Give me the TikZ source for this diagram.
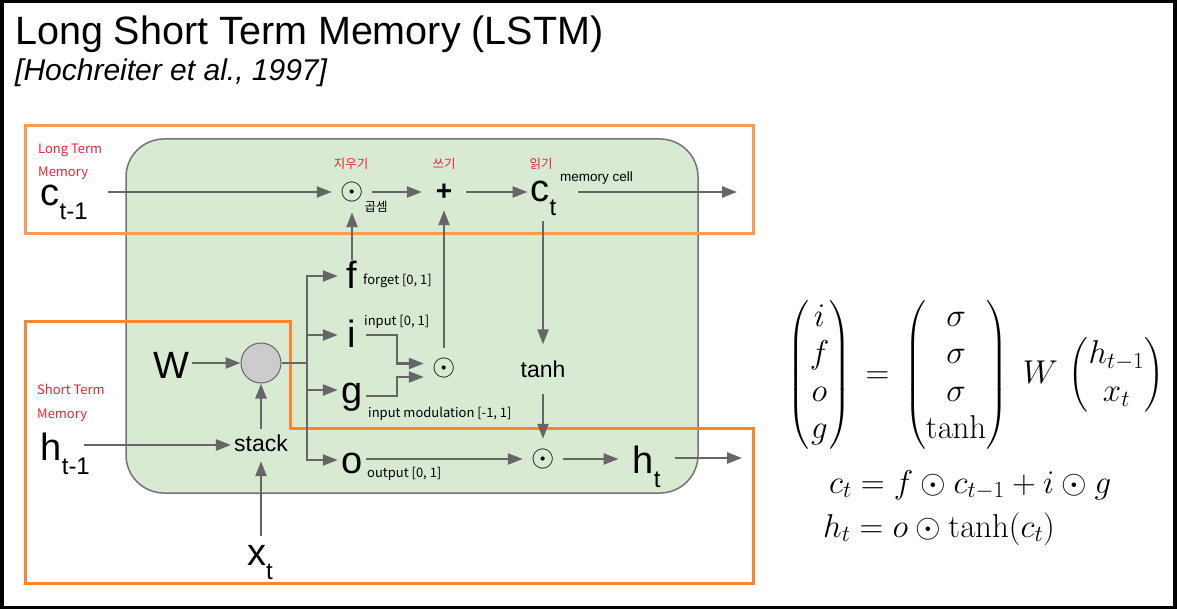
\RequirePackage{fix-cm}
\documentclass[tikz,border=0pt]{standalone}
\usepackage{amsmath}
\usepackage[no-math]{fontspec}
\setmainfont{Liberation Sans}
\newfontfamily\krfont{Noto Sans CJK KR}
\usetikzlibrary{arrows.meta,positioning,calc}
\definecolor{wire}{HTML}{666666}
\definecolor{cellfill}{HTML}{D9EAD3}
\definecolor{celledge}{HTML}{747474}
\definecolor{mixfill}{HTML}{CCCCCC}
\definecolor{tagred}{HTML}{EE2233}
\definecolor{ltmorange}{HTML}{F79A55}
\definecolor{stmorange}{HTML}{F9862F}
\newcommand{\lowsub}[2]{#1\raisebox{-14pt}{\fontsize{24}{24}\selectfont #2}}
\tikzset{
  flowarr/.style={-{Triangle[length=15pt,width=11pt]},line width=2.4pt,draw=wire},
  flowline/.style={line width=2.4pt,draw=wire},
  bigvar/.style={font=\fontsize{38}{38}\selectfont,text height=26pt,text depth=0pt,inner sep=3pt},
  subvar/.style={bigvar,text depth=16pt},
  gatevar/.style={bigvar,minimum width=28pt},
  opsym/.style={circle,inner sep=0pt,minimum size=40pt,font=\fontsize{30}{30}\selectfont},
  plussym/.style={inner sep=0pt,minimum width=44pt,minimum height=36pt,
                  font=\bfseries\fontsize{28}{28}\selectfont},
  wordnode/.style={font=\fontsize{23}{23}\selectfont,inner sep=3pt},
  mixer/.style={circle,draw=wire,line width=1pt,fill=mixfill,minimum size=40pt,inner sep=0pt},
  gatetag/.style={font=\krfont\fontsize{13}{13}\selectfont,inner sep=0pt,anchor=base west},
  memtag/.style={gatetag,text=tagred,align=left,font=\krfont\fontsize{13}{23.5}\selectfont},
  krtag/.style={font=\krfont\fontsize{12.5}{12.5}\selectfont,inner sep=0pt},
  cellbox/.style={draw=celledge,fill=cellfill,line width=1.5pt,rounded corners=38pt},
  ltmbox/.style={draw=ltmorange,line width=3pt},
  stmbox/.style={draw=stmorange,line width=3pt},
  eqtext/.style={font=\fontsize{33}{37.5}\selectfont,inner sep=0pt}
}
\begin{document}
\begin{tikzpicture}[x=1pt,y=-1pt]
  \useasboundingbox (0,0) rectangle (1177,609);
  \fill[black] (0,0) rectangle (1177,609);
  \fill[white] (4,3) rectangle (1173,606);

  \node[anchor=base west,inner sep=0pt,font=\fontsize{39.5}{39.5}\selectfont] (title) at (15,45) {Long Short Term Memory (LSTM)};
  \node[anchor=base west,inner sep=0pt,font=\itshape\fontsize{30}{30}\selectfont] (cite) at (15,81) {[Hochreiter et al., 1997]};

  \draw[cellbox] (126,139) rectangle (698,493);
  \draw[ltmbox] (25,126) rectangle (753,234);
  \draw[stmbox] (25,322) -- (290,322) -- (290,428) -- (753,428) -- (753,583) -- (25,583) -- cycle;

  % cell state path
  \node[subvar,anchor=base west] (cprev) at (37.5,206) {\lowsub{c}{t-1}};
  \node[opsym] (forgetmul) at (352,192) {$\odot$};
  \node[plussym] (addgate) at (444,192) {+};
  \node[subvar,anchor=base west] (cnow) at (527.5,202) {\lowsub{c}{t}};
  \coordinate (cout) at (737,192);

  \node[krtag,text=tagred] (erasetag) at (351,164) {지우기};
  \node[krtag,text=tagred] (writetag) at (444,164) {쓰기};
  \node[krtag,text=tagred] (readtag) at (541,164) {읽기};
  \node[krtag] (multag) at (376,207) {곱셈};
  \node[anchor=base west,inner sep=0pt,font=\fontsize{13.5}{13.5}\selectfont] (celltag) at (560,182) {memory cell};
  \node[memtag] (ltmtag) at (38,177) {Long Term\\Memory};
  \node[memtag] (stmtag) at (37,418) {Short Term\\Memory};

  % inputs and gates
  \node[bigvar] (W) at (171,365) {W};
  \node[mixer] (mix) at (261,363) {};
  \node[wordnode,text height=17pt,text depth=5pt,inner ysep=5pt] (stack) at (261,445) {stack};
  \node[subvar,anchor=base west] (hprev) at (37.5,460) {\lowsub{h}{t-1}};
  \node[bigvar,anchor=base west] (xin) at (244,565) {\lowsub{x}{t}};
  \coordinate (split) at (307,363);
  \node[gatevar] (f) at (352,276) {f};
  \node[gatevar] (i) at (352,335) {i};
  \node[gatevar] (g) at (352,390) {g};
  \node[gatevar] (o) at (352,460) {o};
  \node[gatetag] (ftag) at (363,285) {forget [0, 1]};
  \node[gatetag] (itag) at (364,326) {input [0, 1]};
  \node[gatetag] (gtag) at (368,417) {input modulation [-1, 1]};
  \node[gatetag] (otag) at (367,477) {output [0, 1]};

  \node[opsym] (inmul) at (444,368) {$\odot$};
  \node[wordnode,inner ysep=16pt] (tanh) at (543,369) {tanh};
  \node[opsym] (outmul) at (543,459) {$\odot$};
  \node[bigvar,anchor=base west,inner xsep=14pt] (hnow) at (618.5,473) {\lowsub{h}{t}};
  \coordinate (hout) at (742,458);

  \draw[flowarr,shorten <=17pt] (cprev.east |- forgetmul) -- (forgetmul);
  \draw[flowarr] (forgetmul) -- (addgate);
  \draw[flowarr] (addgate) -- (cnow.west |- addgate);
  \draw[flowarr,shorten <=18pt] (cnow.east |- cout) -- (cout);
  \draw[flowarr] (f) -- (forgetmul);

  \draw[flowarr] (W.east |- mix) -- (mix);
  \draw[flowarr] (stack) -- (mix);
  \draw[flowarr] (xin.north -| stack) -- (stack);
  \draw[flowarr,shorten <=-9.5pt] (hprev.east |- stack) -- (stack);
  \draw[flowline] (mix) -- (split);
  \foreach \gate in {f,i,g,o}
    \draw[flowarr] (split) |- (\gate);

  \draw[flowarr] (i.east) -- ++(31,0) |- ([yshift=4.5pt]inmul.west);
  \draw[flowarr] ([yshift=-6pt]g.east) -- ++(31,0) |- ([yshift=-9pt]inmul.west);
  \draw[flowarr] (inmul) -- (addgate);
  \draw[flowarr] (cnow.south -| tanh) -- (tanh);
  \draw[flowarr] (tanh) -- (outmul);
  \draw[flowarr] (o.east |- outmul) -- (outmul);
  \draw[flowarr] (outmul) -- (hnow.west |- outmul);
  \draw[flowarr] (hnow.east |- hout) -- (hout);

  % equations
  \node[eqtext] (gates) at (976,375) {$\begin{pmatrix} i\\ f\\ o\\ g \end{pmatrix} \, = \, \begin{pmatrix} \sigma\\ \sigma\\ \sigma\\ \tanh \end{pmatrix} \; W \, \begin{pmatrix} h_{t-1}\\ x_t \end{pmatrix}$};
  \node[eqtext,anchor=base west] (cellrule) at (829,493) {$c_t = f \odot c_{t-1} + i \odot g$};
  \node[eqtext,anchor=base west] (hiddenrule) at (823,537) {$h_t = o \odot \tanh(c_t)$};
\end{tikzpicture}
\end{document}
